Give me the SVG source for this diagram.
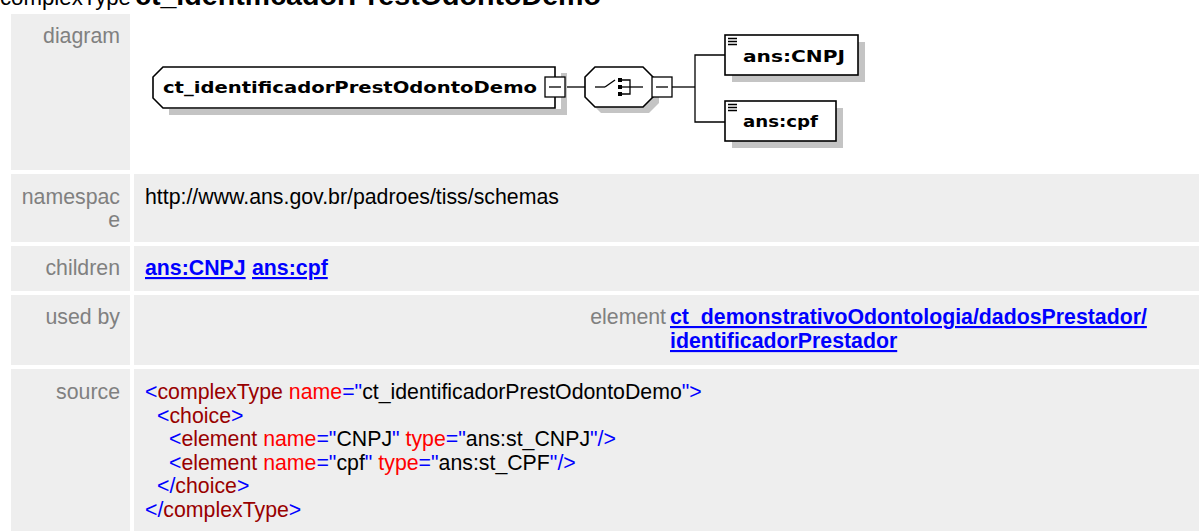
<svg xmlns="http://www.w3.org/2000/svg" width="1199" height="531" viewBox="0 0 1199 531">
<style>
.cell{fill:#eeeeee}
.lbl{font-family:"Liberation Sans",Arial,sans-serif;font-size:21.3px;fill:#808080;text-anchor:end}
.val{font-family:"Liberation Sans",Arial,sans-serif;font-size:21.3px;fill:#000}
.lnk{font-family:"Liberation Sans",Arial,sans-serif;font-size:21.3px;font-weight:bold;fill:#0000ff;text-decoration:underline}
.src{font-family:"Liberation Sans",Arial,sans-serif;font-size:21.3px}
.b{fill:#0000ff}.m{fill:#990000}.r{fill:#ff0000}.k{fill:#000}
.shadow{fill:#c4c4c4}
.box{fill:#fff;stroke:#000;stroke-width:1.6}
.ln{stroke:#000;stroke-width:1.3;fill:none}
.ntext{font-family:"DejaVu Sans",Verdana,sans-serif;font-weight:bold;font-size:16px;fill:#000}
</style>

<g id="title">
<text x="0" y="5" font-family="Liberation Sans,Arial,sans-serif" font-size="21.3" fill="#000" textLength="131" lengthAdjust="spacingAndGlyphs">complexType</text>
<text x="135" y="5" font-family="Liberation Sans,Arial,sans-serif" font-size="28" font-weight="bold" fill="#000" textLength="466" lengthAdjust="spacingAndGlyphs">ct_identificadorPrestOdontoDemo</text>
</g>

<g id="table">
<rect class="cell" x="11" y="14" width="119" height="156"/>
<rect class="cell" x="11" y="174" width="119" height="68"/>
<rect class="cell" x="134" y="174" width="1065" height="68"/>
<rect class="cell" x="11" y="246" width="119" height="45"/>
<rect class="cell" x="134" y="246" width="1065" height="45"/>
<rect class="cell" x="11" y="295" width="119" height="70"/>
<rect class="cell" x="134" y="295" width="1065" height="70"/>
<rect class="cell" x="11" y="369" width="119" height="162"/>
<rect class="cell" x="134" y="369" width="1065" height="162"/>

<text class="lbl" x="120" y="43">diagram</text>
<text class="lbl" x="120" y="204">namespac</text>
<text class="lbl" x="120" y="227">e</text>
<text class="lbl" x="120" y="275">children</text>
<text class="lbl" x="120" y="324">used by</text>
<text class="lbl" x="120" y="399">source</text>

<text class="val" x="145" y="204">http://www.ans.gov.br/padroes/tiss/schemas</text>
<text class="lnk" x="145" y="275">ans:CNPJ</text>
<text class="lnk" x="252" y="275">ans:cpf</text>
<text class="lbl" x="666" y="324">element</text>
<text class="lnk" x="670" y="324">ct_demonstrativoOdontologia/dadosPrestador/</text>
<text class="lnk" x="670" y="348">identificadorPrestador</text>

<text class="src" x="145" y="399"><tspan class="b">&lt;</tspan><tspan class="m">complexType</tspan><tspan class="r"> name</tspan><tspan class="b">="</tspan><tspan class="k">ct_identificadorPrestOdontoDemo</tspan><tspan class="b">"&gt;</tspan></text>
<text class="src" x="157" y="422.5"><tspan class="b">&lt;</tspan><tspan class="m">choice</tspan><tspan class="b">&gt;</tspan></text>
<text class="src" x="169" y="446"><tspan class="b">&lt;</tspan><tspan class="m">element</tspan><tspan class="r"> name</tspan><tspan class="b">="</tspan><tspan class="k">CNPJ</tspan><tspan class="b">"</tspan><tspan class="r"> type</tspan><tspan class="b">="</tspan><tspan class="k">ans:st_CNPJ</tspan><tspan class="b">"/&gt;</tspan></text>
<text class="src" x="169" y="469.5"><tspan class="b">&lt;</tspan><tspan class="m">element</tspan><tspan class="r"> name</tspan><tspan class="b">="</tspan><tspan class="k">cpf</tspan><tspan class="b">"</tspan><tspan class="r"> type</tspan><tspan class="b">="</tspan><tspan class="k">ans:st_CPF</tspan><tspan class="b">"/&gt;</tspan></text>
<text class="src" x="157" y="493"><tspan class="b">&lt;/</tspan><tspan class="m">choice</tspan><tspan class="b">&gt;</tspan></text>
<text class="src" x="145" y="516.5"><tspan class="b">&lt;/</tspan><tspan class="m">complexType</tspan><tspan class="b">&gt;</tspan></text>
</g>

<g id="connectors">
<line class="ln" x1="565" y1="87" x2="585" y2="87"/>
<line class="ln" x1="672" y1="87" x2="695" y2="87"/>
<polyline class="ln" points="725,55 695,55 695,122 725,122"/>
</g>

<g id="node-complexType">
<path class="shadow" d="M169,109 L561,109 L561,73 L567,73 L567,115 L169,115 Z"/>
<path class="box" d="M163,67 L555,67 L555,108 L163,108 L153,98 L153,77 Z"/>
<text class="ntext" x="163" y="93" textLength="374" lengthAdjust="spacingAndGlyphs">ct_identificadorPrestOdontoDemo</text>
<rect x="545" y="77" width="20" height="20" fill="#fff" stroke="#000" stroke-width="1.3"/>
<line class="ln" x1="549" y1="87" x2="561" y2="87"/>
</g>

<g id="node-choice">
<polygon class="shadow" points="601,73 649,73 659,83 659,103 649,113 601,113 591,103 591,83"/>
<polygon class="box" points="595,67 643,67 653,77 653,97 643,107 595,107 585,97 585,77"/>
<line class="ln" x1="595" y1="87" x2="605" y2="87"/>
<line class="ln" x1="605" y1="87" x2="615" y2="80"/>
<rect x="618" y="78" width="4" height="4" fill="#000"/>
<rect x="618" y="85" width="4" height="4" fill="#000"/>
<rect x="618" y="92" width="4" height="4" fill="#000"/>
<polyline class="ln" points="622,80 630,80 630,94 622,94"/>
<line class="ln" x1="622" y1="87" x2="643" y2="87"/>
<rect x="652" y="77" width="20" height="20" fill="#fff" stroke="#000" stroke-width="1.3"/>
<line class="ln" x1="656" y1="87" x2="668" y2="87"/>
</g>

<g id="node-CNPJ">
<rect class="shadow" x="732" y="42" width="133" height="40"/>
<rect class="box" x="725" y="35" width="133" height="40"/>
<path class="ln" d="M728,38.5 H737 M728,41.5 H737 M728,44.5 H737" stroke-width="1"/>
<text class="ntext" x="743" y="62" textLength="102" lengthAdjust="spacingAndGlyphs">ans:CNPJ</text>
</g>

<g id="node-cpf">
<rect class="shadow" x="732" y="108" width="111" height="40"/>
<rect class="box" x="725" y="101" width="111" height="40"/>
<path class="ln" d="M728,104.5 H737 M728,107.5 H737 M728,110.5 H737" stroke-width="1"/>
<text class="ntext" x="743" y="127" textLength="75" lengthAdjust="spacingAndGlyphs">ans:cpf</text>
</g>
</svg>
